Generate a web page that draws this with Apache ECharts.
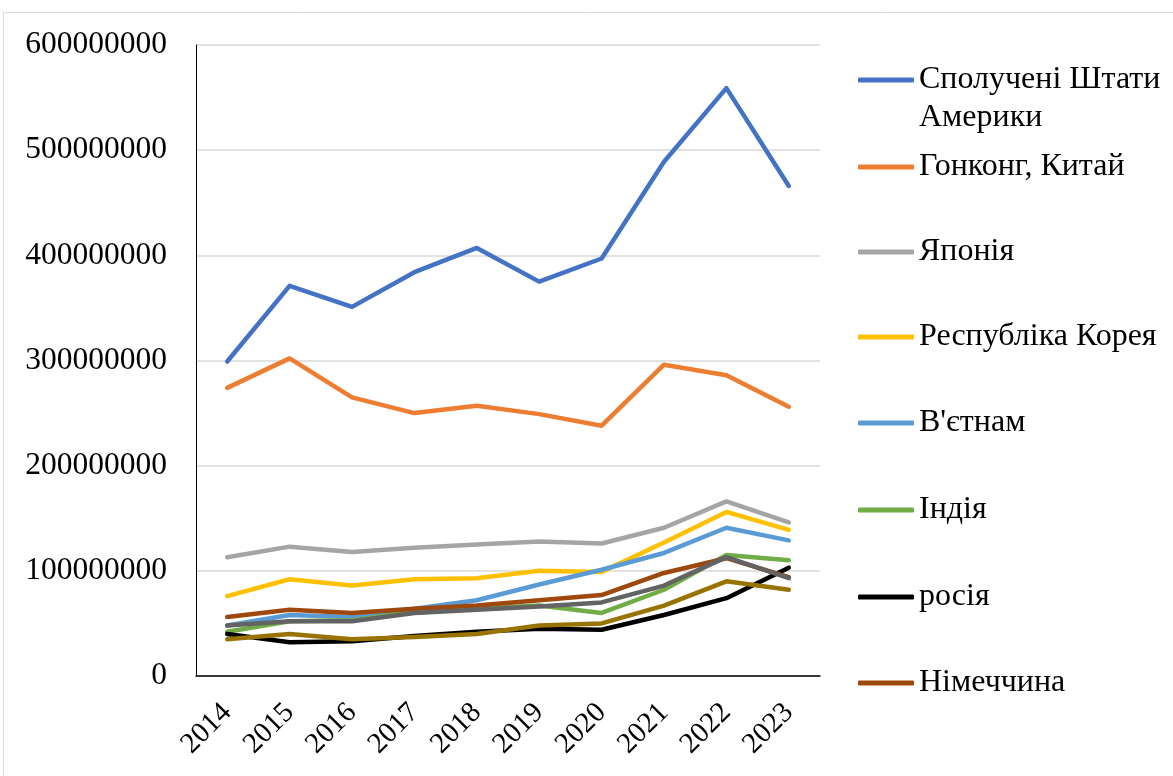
<!DOCTYPE html>
<html>
<head>
<meta charset="utf-8">
<script src="https://cdn.jsdelivr.net/npm/echarts@6/dist/echarts.min.js"></script>
<style>
  html, body { margin: 0; padding: 0; background: #fff; }
  #chart { width: 1173px; height: 776px; }
</style>
</head>
<body>
<div id="chart"></div>
<script>
// роки
var years = ['2014', '2015', '2016', '2017', '2018', '2019', '2020', '2021', '2022', '2023'];

// значення
var usa      = [299e6, 371e6, 351e6, 384e6, 407e6, 375e6, 397e6, 489e6, 559e6, 466e6];
var hongKong = [274e6, 302e6, 265e6, 250e6, 257e6, 249e6, 238e6, 296e6, 286e6, 256e6];
var japan    = [113e6, 123e6, 118e6, 122e6, 125e6, 128e6, 126e6, 141e6, 166e6, 146e6];
var korea    = [76e6, 92e6, 86e6, 92e6, 93e6, 100e6, 99e6, 127e6, 156e6, 139e6];
var vietnam  = [48e6, 58e6, 56e6, 64e6, 72e6, 87e6, 101e6, 117e6, 141e6, 129e6];
var india    = [42e6, 52e6, 53e6, 61e6, 64e6, 67e6, 60e6, 82e6, 115e6, 110e6];
var russia   = [40e6, 32e6, 33e6, 38e6, 42e6, 45e6, 44e6, 58e6, 74e6, 103e6];
var germany  = [56e6, 63e6, 60e6, 64e6, 67e6, 72e6, 77e6, 98e6, 112e6, 94e6];
var series9  = [48e6, 52e6, 52e6, 60e6, 63e6, 66e6, 70e6, 86e6, 113e6, 93e6];
var series10 = [35e6, 40e6, 35e6, 37e6, 40e6, 48e6, 50e6, 67e6, 90e6, 82e6];

var yTicks = [0, 100000000, 200000000, 300000000, 400000000, 500000000, 600000000];

var names = ['Сполучені Штати Америки', 'Гонконг, Китай', 'Японія', 'Республіка Корея',
             "В'єтнам", 'Індія', 'росія', 'Німеччина', 'Серія 9', 'Серія 10'];
var values = [usa, hongKong, japan, korea, vietnam, india, russia, germany, series9, series10];
var colors = ['#4472C4', '#ED7D31', '#A5A5A5', '#FFC000', '#5B9BD5',
              '#70AD47', '#000000', '#9E480E', '#636363', '#997300'];

var font = "'Liberation Serif', 'Times New Roman', serif";

var myChart = echarts.init(document.getElementById('chart'));

// легенда: по одній на кожен рядок, видно лише перші 8 (центри рядків)
var legendCenters = [80, 167, 252, 337, 423, 510, 597, 683];
var legends = legendCenters.map(function (c, i) {
  return {
    left: 853,
    top: c - 23,
    orient: 'vertical',
    icon: 'roundRect',
    itemWidth: 56,
    itemHeight: 5,
    itemGap: 0,
    selectedMode: false,
    data: [names[i]],
    formatter: i === 0 ? 'Сполучені Штати' : '{name}',
    textStyle: {
      fontFamily: font,
      fontSize: 32,
      color: '#000',
      lineHeight: 36
    }
  };
});

myChart.setOption({
  backgroundColor: '#fff',
  animation: false,
  color: colors,
  graphic: [{
    type: 'rect',
    shape: { x: 3.5, y: 12.5, width: 1200, height: 800 },
    style: { fill: 'none', stroke: '#d9d9d9', lineWidth: 1 },
    silent: true
  }, {
    // другий рядок першого пункту легенди
    type: 'text',
    left: 919,
    top: 102,
    style: { text: 'Америки', font: '32px ' + font, fill: '#000' },
    silent: true
  }],
  legend: legends,
  grid: {
    left: 196,
    right: 353,
    top: 45,
    bottom: 100
  },
  xAxis: {
    type: 'category',
    data: years,
    boundaryGap: true,
    axisLine: { lineStyle: { color: '#000', width: 1.5 } },
    axisTick: { show: false },
    axisLabel: {
      rotate: 45,
      margin: 32,
      fontFamily: font,
      fontSize: 29,
      color: '#000'
    }
  },
  yAxis: {
    type: 'value',
    min: yTicks[0],
    max: yTicks[yTicks.length - 1],
    interval: 100000000,
    axisLine: { show: true, lineStyle: { color: '#000', width: 1 } },
    axisTick: { show: false },
    splitLine: { lineStyle: { color: '#d9d9d9', width: 1.5 } },
    axisLabel: {
      margin: 29,
      fontFamily: font,
      fontSize: 31.5,
      color: '#000',
      formatter: function (v) { return String(v); }
    }
  },
  series: names.map(function (name, i) {
    return {
      name: name,
      type: 'line',
      data: values[i],
      symbol: 'none',
      lineStyle: { width: 4.5, color: colors[i], cap: 'round', join: 'round' },
      itemStyle: { color: colors[i] }
    };
  })
});
</script>
</body>
</html>
